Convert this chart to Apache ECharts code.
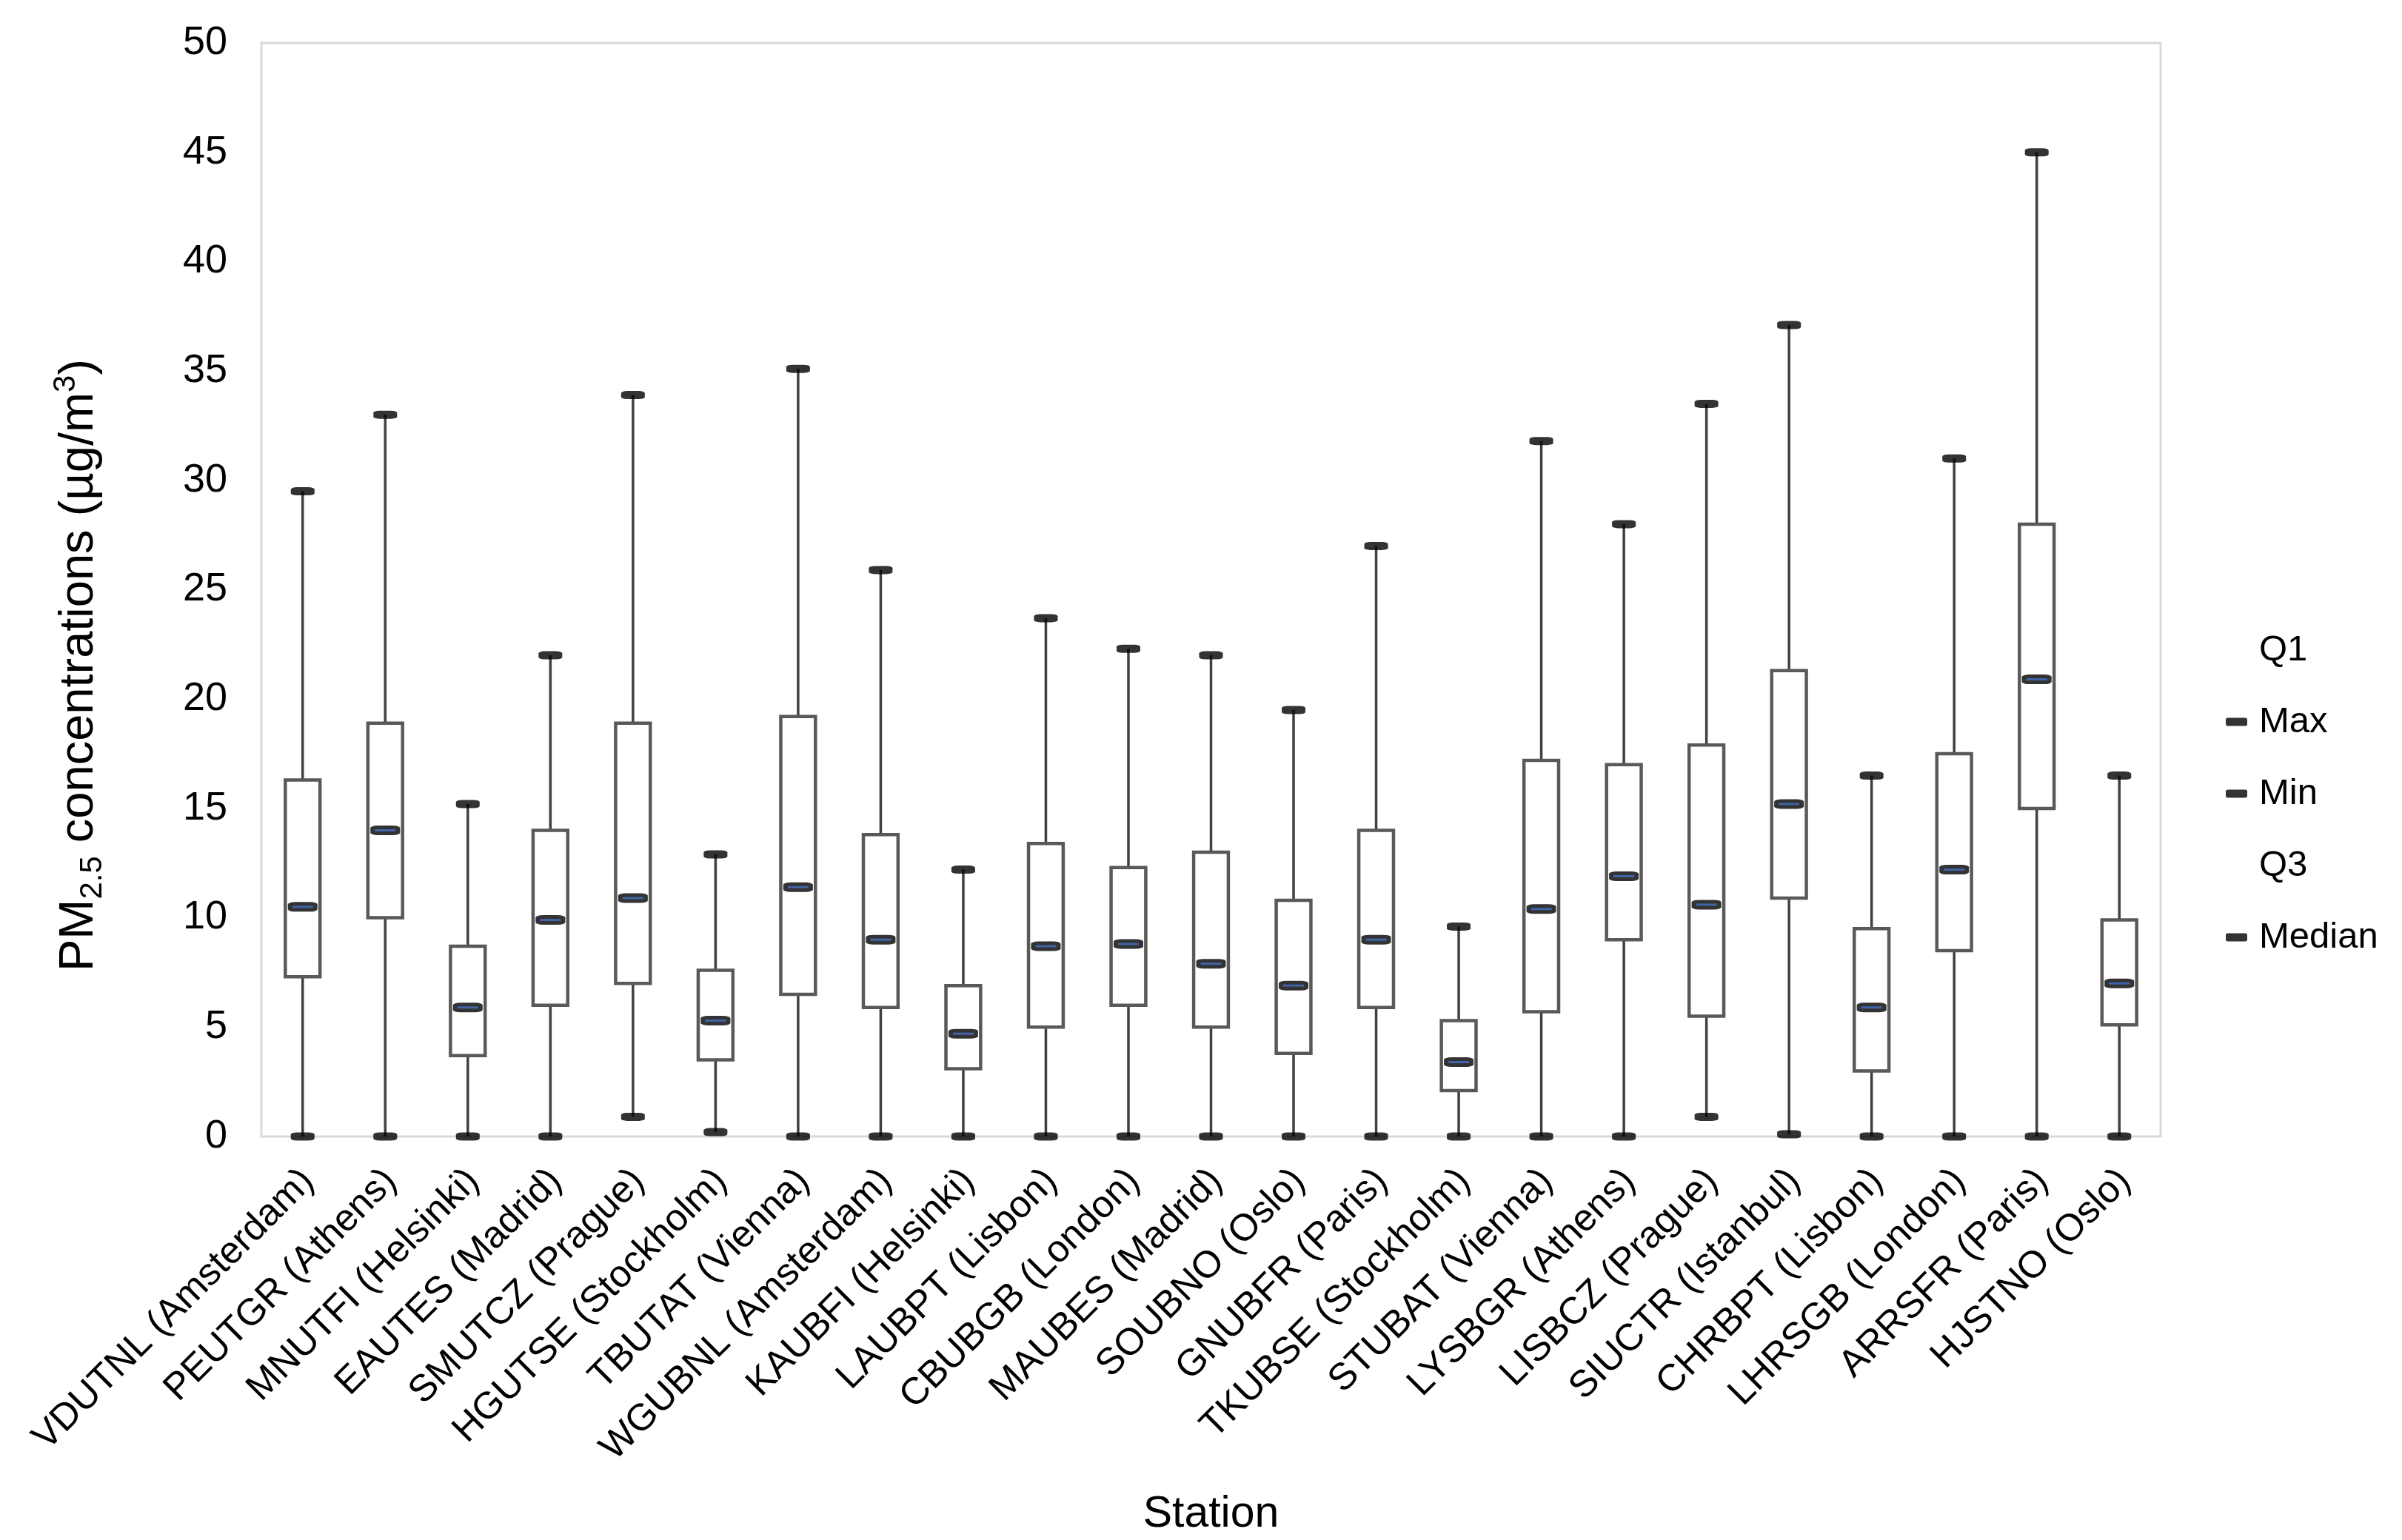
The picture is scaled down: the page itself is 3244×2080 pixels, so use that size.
<!DOCTYPE html>
<html>
<head>
<meta charset="utf-8">
<script src="https://cdn.jsdelivr.net/npm/echarts@6/dist/echarts.min.js"></script>
<style>html,body{margin:0;padding:0;background:#fff;}#chart{width:3244px;height:2080px;}</style>
</head>
<body>
<div id="chart"></div>
<script>
const categories = ['VDUTNL (Amsterdam)','PEUTGR (Athens)','MNUTFI (Helsinki)','EAUTES (Madrid)','SMUTCZ (Prague)','HGUTSE (Stockholm)','TBUTAT (Vienna)','WGUBNL (Amsterdam)','KAUBFI (Helsinki)','LAUBPT (Lisbon)','CBUBGB (London)','MAUBES (Madrid)','SOUBNO (Oslo)','GNUBFR (Paris)','TKUBSE (Stockholm)','STUBAT (Vienna)','LYSBGR (Athens)','LISBCZ (Prague)','SIUCTR (Istanbul)','CHRBPT (Lisbon)','LHRSGB (London)','ARRSFR (Paris)','HJSTNO (Oslo)'];
const maxV = [29.5, 33.0, 15.2, 22.0, 33.9, 12.9, 35.1, 25.9, 12.2, 23.7, 22.3, 22.0, 19.5, 27.0, 9.6, 31.8, 28.0, 33.5, 37.1, 16.5, 31.0, 45.0, 16.5];
const q3V = [16.3, 18.9, 8.7, 14.0, 18.9, 7.6, 19.2, 13.8, 6.9, 13.4, 12.3, 13.0, 10.8, 14.0, 5.3, 17.2, 17.0, 17.9, 21.3, 9.5, 17.5, 28.0, 9.9];
const medV = [10.5, 14.0, 5.9, 9.9, 10.9, 5.3, 11.4, 9.0, 4.7, 8.7, 8.8, 7.9, 6.9, 9.0, 3.4, 10.4, 11.9, 10.6, 15.2, 5.9, 12.2, 20.9, 7.0];
const q1V = [7.3, 10.0, 3.7, 6.0, 7.0, 3.5, 6.5, 5.9, 3.1, 5.0, 6.0, 5.0, 3.8, 5.9, 2.1, 5.7, 9.0, 5.5, 10.9, 3.0, 8.5, 15.0, 5.1];
const minV = [0, 0, 0, 0, 0.9, 0.2, 0, 0, 0, 0, 0, 0, 0, 0, 0, 0, 0, 0.9, 0.1, 0, 0, 0, 0];
const yTicks = {min: 0, max: 50, interval: 5};

const FONT = "'Liberation Sans', Arial, sans-serif";
const boxData = categories.map((c, i) => [i, minV[i], q1V[i], medV[i], q3V[i], maxV[i]]);

const chart = echarts.init(document.getElementById('chart'), null, {renderer: 'canvas'});
chart.setOption({
  animation: false,
  backgroundColor: '#fff',
  textStyle: {fontFamily: FONT, color: '#000'},
  grid: {left: 353, right: 326, top: 58, bottom: 545, show: true, borderColor: '#d9d9d9', borderWidth: 3, containLabel: false},
  legend: {
    orient: 'vertical', left: 3001, top: 845, itemWidth: 29, itemHeight: 11, itemGap: 41,
    textStyle: {fontSize: 49, lineHeight: 56, color: '#000', fontFamily: FONT, padding: [0, 0, 0, 11]},
    selectedMode: false,
    data: [
      {name: 'Q1', icon: 'none'},
      {name: 'Max', icon: 'roundRect'},
      {name: 'Min', icon: 'roundRect'},
      {name: 'Q3', icon: 'none'},
      {name: 'Median', icon: 'roundRect'}
    ]
  },
  xAxis: {
    type: 'category', data: categories, boundaryGap: true,
    axisLine: {show: false}, axisTick: {show: false}, splitLine: {show: false},
    axisLabel: {rotate: 45, interval: 0, fontSize: 51, color: '#000', margin: 24, fontFamily: FONT,
      align: 'right', verticalAlign: 'top', padding: [0, 15, 0, 0]},
    name: 'Station', nameLocation: 'middle', nameGap: 481,
    nameTextStyle: {fontSize: 59, color: '#000', fontFamily: FONT}
  },
  yAxis: {
    type: 'value', min: yTicks.min, max: yTicks.max, interval: yTicks.interval,
    axisLine: {show: false}, axisTick: {show: false}, splitLine: {show: false},
    axisLabel: {fontSize: 54, color: '#000', margin: 46, fontFamily: FONT},
    name: '{a|PM}{b|2.5}{a| concentrations (µg/m}{c|3}{a|)}',
    nameLocation: 'middle', nameGap: 207,
    nameTextStyle: {
      padding: [0, 204, 0, 0],
      rich: {
        a: {fontSize: 65, lineHeight: 78, color: '#000', fontFamily: FONT},
        b: {fontSize: 42, lineHeight: 42, verticalAlign: 'bottom', color: '#000', fontFamily: FONT},
        c: {fontSize: 42, lineHeight: 42, verticalAlign: 'top', color: '#000', fontFamily: FONT}
      }
    }
  },
  series: [
    {
      name: 'box', type: 'custom', data: boxData, encode: {x: 0, y: [1, 2, 3, 4, 5]}, z: 2,
      renderItem: function (params, api) {
        const x = api.value(0);
        const pMin = api.coord([x, api.value(1)]);
        const pQ1 = api.coord([x, api.value(2)]);
        const pQ3 = api.coord([x, api.value(4)]);
        const pMax = api.coord([x, api.value(5)]);
        const w = api.size([1, 0])[0] * 0.42;
        return {
          type: 'group',
          children: [
            {type: 'line', shape: {x1: pMin[0], y1: pMin[1], x2: pMax[0], y2: pMax[1]}, style: {stroke: '#404040', lineWidth: 3.5}},
            {type: 'rect', shape: {x: pQ1[0] - w / 2, y: pQ3[1], width: w, height: pQ1[1] - pQ3[1]}, style: {fill: '#fff', stroke: '#595959', lineWidth: 4.5}}
          ]
        };
      }
    },
    {name: 'Q1', type: 'line', data: q1V, symbol: 'none', lineStyle: {width: 0, opacity: 0}, itemStyle: {color: 'transparent'}, silent: true},
    {name: 'Max', type: 'scatter', data: maxV, symbol: 'roundRect', symbolSize: [32, 11], itemStyle: {color: '#000'}, z: 5},
    {name: 'Min', type: 'scatter', data: minV, symbol: 'roundRect', symbolSize: [32, 11], itemStyle: {color: '#000'}, z: 5},
    {name: 'Q3', type: 'line', data: q3V, symbol: 'none', lineStyle: {width: 0, opacity: 0}, itemStyle: {color: 'transparent'}, silent: true},
    {name: 'Median', type: 'scatter', data: medV, symbol: 'roundRect', symbolSize: [40, 13], itemStyle: {color: '#000'}, z: 5},
    {name: 'MedianLine', type: 'scatter', data: medV, symbol: 'rect', symbolSize: [28, 3], itemStyle: {color: '#4472C4'}, z: 6, silent: true}
  ]
});
</script>
</body>
</html>
